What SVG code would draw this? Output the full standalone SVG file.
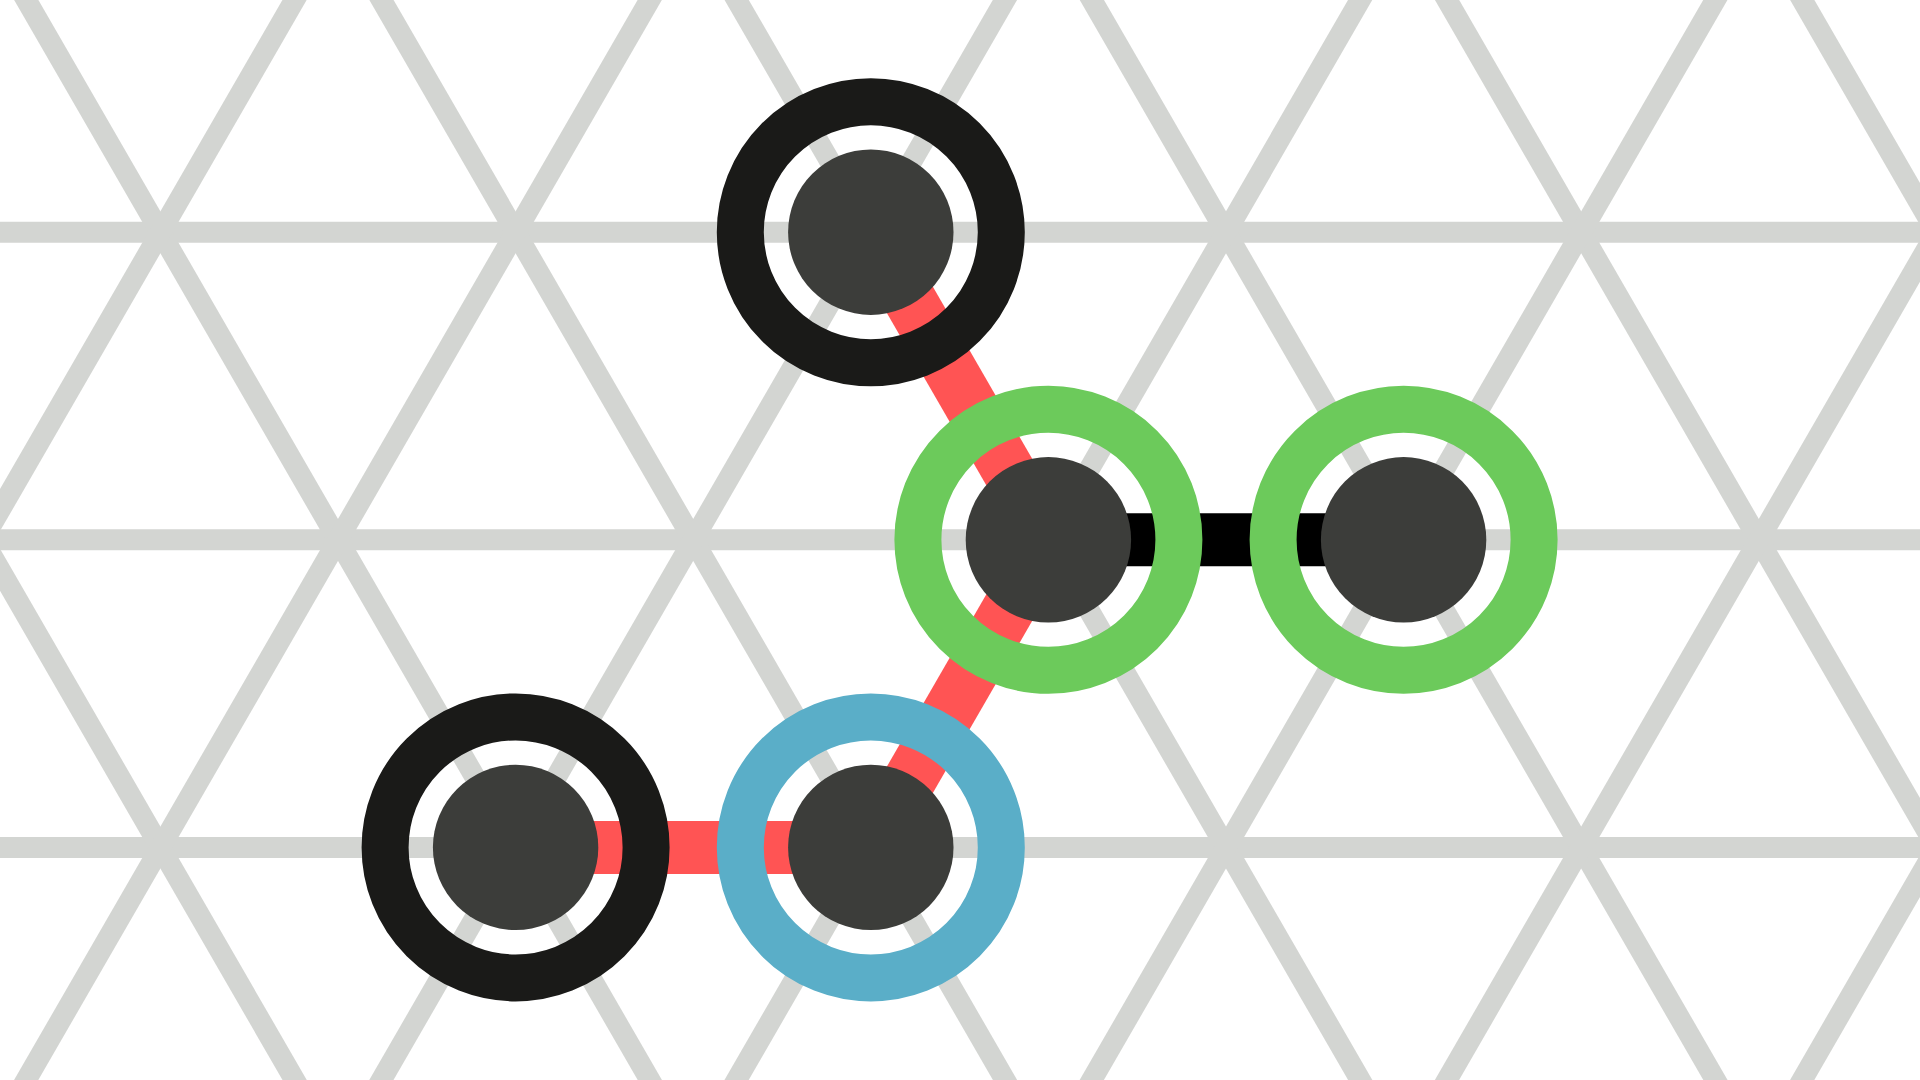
<svg xmlns="http://www.w3.org/2000/svg" width="1920" height="1080" viewBox="0 0 1920 1080">
<style>
.grid line{stroke:#d3d5d2;stroke-width:21;}
.edge{stroke-width:53;stroke-linecap:butt;}
.red{stroke:#ff5454;}
.blk{stroke:#000000;}
.ring{fill:none;stroke-width:47;}
.core{fill:#3c3d3a;}
</style>
<rect width="1920" height="1080" fill="#ffffff"/>
<g id="grid" class="grid">
<line x1="-50" y1="232.2" x2="1970" y2="232.2"/>
<line x1="-50" y1="539.8" x2="1970" y2="539.8"/>
<line x1="-50" y1="847.4" x2="1970" y2="847.4"/>
<line x1="-357.8" y1="-50" x2="323.5" y2="1130"/>
<line x1="-2.6" y1="-50" x2="678.7" y2="1130"/>
<line x1="352.6" y1="-50" x2="1033.9" y2="1130"/>
<line x1="707.8" y1="-50" x2="1389.1" y2="1130"/>
<line x1="1063.0" y1="-50" x2="1744.3" y2="1130"/>
<line x1="1418.2" y1="-50" x2="2099.5" y2="1130"/>
<line x1="1773.4" y1="-50" x2="2454.7" y2="1130"/>
<line x1="323.4" y1="-50" x2="-357.9" y2="1130"/>
<line x1="678.6" y1="-50" x2="-2.7" y2="1130"/>
<line x1="1033.8" y1="-50" x2="352.5" y2="1130"/>
<line x1="1389.0" y1="-50" x2="707.7" y2="1130"/>
<line x1="1744.2" y1="-50" x2="1062.9" y2="1130"/>
<line x1="2099.4" y1="-50" x2="1418.1" y2="1130"/>
<line x1="2454.6" y1="-50" x2="1773.3" y2="1130"/>
</g>
<g id="connectors">
<line class="edge red" x1="870.8" y1="232.2" x2="1048.4" y2="539.8"/>
<line class="edge red" x1="1048.4" y1="539.8" x2="870.8" y2="847.4"/>
<line class="edge red" x1="870.8" y1="847.4" x2="515.6" y2="847.4"/>
<line class="edge blk" x1="1048.4" y1="539.8" x2="1403.6" y2="539.8"/>
</g>
<g id="node-top">
<circle class="ring" cx="870.8" cy="232.2" r="130.5" stroke="#1a1a18"/>
<circle class="core" cx="870.8" cy="232.2" r="82.7"/>
</g>
<g id="node-middle">
<circle class="ring" cx="1048.4" cy="539.8" r="130.5" stroke="#6cca5b"/>
<circle class="core" cx="1048.4" cy="539.8" r="82.7"/>
</g>
<g id="node-right">
<circle class="ring" cx="1403.6" cy="539.8" r="130.5" stroke="#6cca5b"/>
<circle class="core" cx="1403.6" cy="539.8" r="82.7"/>
</g>
<g id="node-bottom-left">
<circle class="ring" cx="515.6" cy="847.4" r="130.5" stroke="#1a1a18"/>
<circle class="core" cx="515.6" cy="847.4" r="82.7"/>
</g>
<g id="node-bottom">
<circle class="ring" cx="870.8" cy="847.4" r="130.5" stroke="#5aaec8"/>
<circle class="core" cx="870.8" cy="847.4" r="82.7"/>
</g>
</svg>
